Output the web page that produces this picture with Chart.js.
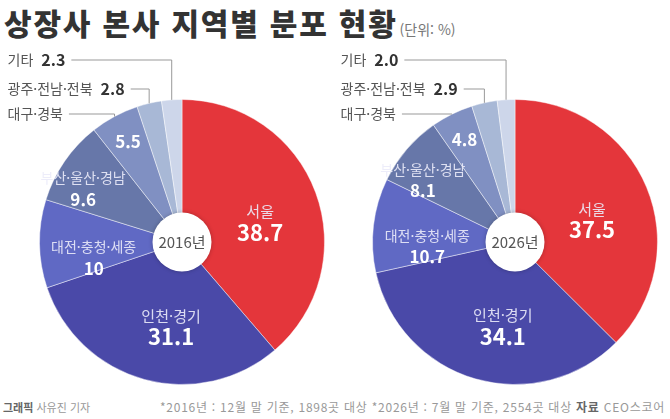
<!DOCTYPE html>
<html lang="ko">
<head>
<meta charset="utf-8">
<script src="https://cdn.jsdelivr.net/npm/chart.js@4.4.1/dist/chart.umd.min.js"></script>
<style>
  html, body { margin: 0; padding: 0; background: #fff; }
  body { width: 670px; height: 419px; position: relative; overflow: hidden; font-family: "Noto Sans CJK KR", "Noto Sans", sans-serif; }
  .title { position: absolute; left: 4px; top: 0px; font-size: 30px; font-weight: 900; color: #333; letter-spacing: 1.8px; white-space: nowrap; }
  .title small { font-size: 14px; font-weight: 400; color: #777; margin-left: 2px; letter-spacing: 0; }
  .pie { position: absolute; top: 30px; width: 335px; height: 365px; }
  .foot { position: absolute; top: 399px; font-size: 11px; color: #999; white-space: nowrap; }
  .foot b { color: #666; }
</style>
</head>
<body>
<div class="title">상장사 본사 지역별 분포 현황<small>(단위: %)</small></div>
<div class="pie" style="left:0"><canvas id="pie2016"></canvas></div>
<div class="pie" style="left:335px"><canvas id="pie2026"></canvas></div>
<div class="foot" style="left:3px"><b>그래픽</b> 사유진 기자</div>
<div class="foot" style="right:5px; font-size:12px; top:398px; letter-spacing:0.75px">*2016년 : 12월 말 기준, 1898곳 대상 *2026년 : 7월 말 기준, 2554곳 대상 <b>자료</b> CEO스코어</div>

<script>
// 데이터
const regions = ['서울', '인천·경기', '대전·충청·세종', '부산·울산·경남', '대구·경북', '광주·전남·전북', '기타'];
const share2016 = [38.7, 31.1, 10, 9.6, 5.5, 2.8, 2.3];
const share2026 = [37.5, 34.1, 10.7, 8.1, 4.8, 2.9, 2.0];
const colors = ['#E4363B', '#4A49A8', '#6069C4', '#6777A9', '#8090C2', '#A8B8D6', '#CDD6EA'];

const FONT = '"Noto Sans CJK KR", "Noto Sans", sans-serif';

function fmt(v) {
  return Number.isInteger(v) && v >= 10 ? String(v) : v.toFixed(1);
}

// 조각 안/밖 라벨, 가운데 원
const pieLabels = {
  id: 'pieLabels',
  afterDatasetsDraw(chart, args, opts) {
    const ctx = chart.ctx;
    const arcs = chart.getDatasetMeta(0).data;
    const values = chart.data.datasets[0].data;
    const names = chart.data.labels;
    const { x: cx, y: cy, outerRadius: R, innerRadius: r0 } =
      arcs[0].getProps(['x', 'y', 'outerRadius', 'innerRadius'], true);

    // 가운데 흰 원
    ctx.save();
    ctx.shadowColor = 'rgba(0,0,0,0.25)';
    ctx.shadowBlur = 4;
    ctx.fillStyle = '#fff';
    ctx.beginPath();
    ctx.arc(cx, cy, r0 + 1, 0, Math.PI * 2);
    ctx.fill();
    ctx.restore();

    ctx.save();
    ctx.textAlign = 'center';
    ctx.textBaseline = 'middle';
    ctx.fillStyle = '#555';
    ctx.font = '15px ' + FONT;
    ctx.fillText(opts.year, cx, cy);

    // 안쪽 라벨 (조각 가운데 각도 기준, 약간씩 보정)
    const radFactor = [0.57, 0.61, 0.62, 0.74, 0.8];
    const nudge = [[2, 8], [12, 0], [0, 14], [-12, 6], [0, 0]];
    arcs.forEach((arc, i) => {
      if (i > 4) return;
      const { startAngle, endAngle } = arc.getProps(['startAngle', 'endAngle'], true);
      const mid = (startAngle + endAngle) / 2;
      const px = cx + Math.cos(mid) * R * radFactor[i] + nudge[i][0];
      const py = cy + Math.sin(mid) * R * radFactor[i] + nudge[i][1];
      const big = i < 2;
      if (i < 4) {
        ctx.fillStyle = 'rgba(235,235,250,0.9)';
        ctx.font = (big ? '15px ' : '14px ') + FONT;
        ctx.fillText(names[i], px, py - 10);
        ctx.fillStyle = '#fff';
        ctx.font = 'bold ' + (big ? '22px ' : '17px ') + FONT;
        ctx.fillText(fmt(values[i]), px, py + 11);
      } else {
        ctx.fillStyle = '#fff';
        ctx.font = 'bold 17px ' + FONT;
        ctx.fillText(fmt(values[i]), px, py);
      }
    });

    // 바깥 라벨 + 지시선
    const rows = { 6: -40, 5: -11, 4: 14 };
    const tx = cx - R - 32;
    ctx.textAlign = 'left';
    [6, 5, 4].forEach(i => {
      const ly = cy - R + rows[i];
      ctx.fillStyle = '#555';
      ctx.font = '14px ' + FONT;
      ctx.fillText(names[i], tx, ly);
      let end = tx + ctx.measureText(names[i]).width;
      if (i !== 4) {
        ctx.fillStyle = '#333';
        ctx.font = 'bold 16px ' + FONT;
        ctx.fillText(fmt(values[i]), end + 8, ly);
        end += 8 + ctx.measureText(fmt(values[i])).width;
      }
      const { startAngle, endAngle } = arcs[i].getProps(['startAngle', 'endAngle'], true);
      const mid = (startAngle + endAngle) / 2;
      const ax = cx + Math.cos(mid) * R;
      const ay = cy + Math.sin(mid) * R;
      ctx.strokeStyle = '#999';
      ctx.lineWidth = 1;
      ctx.beginPath();
      ctx.moveTo(end + 6, ly + 0.5);
      ctx.lineTo(ax, ly + 0.5);
      if (ay > ly) ctx.lineTo(ax, ay);
      ctx.stroke();
    });
    ctx.restore();
  }
};

function renderPie(id, values, year, pad) {
  const ctx = document.getElementById(id).getContext('2d');
  new Chart(ctx, {
    type: 'doughnut',
    data: {
      labels: regions,
      datasets: [{
        data: values,
        backgroundColor: colors,
        borderColor: 'rgba(255,255,255,0.45)',
        borderWidth: 1
      }]
    },
    options: {
      responsive: true,
      maintainAspectRatio: false,
      animation: false,
      cutout: '20%',
      layout: { padding: pad },
      plugins: {
        legend: { display: false },
        tooltip: { enabled: false },
        pieLabels: { year: year }
      }
    },
    plugins: [pieLabels]
  });
}

renderPie('pie2016', share2016, '2016년', { left: 39, right: 10, top: 69, bottom: 10 });
renderPie('pie2026', share2026, '2026년', { left: 37, right: 12, top: 69, bottom: 10 });
</script>
</body>
</html>
